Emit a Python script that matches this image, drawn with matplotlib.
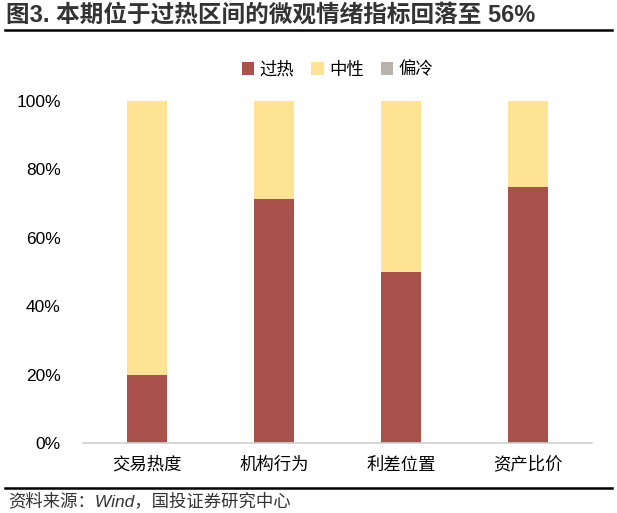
import matplotlib.pyplot as plt
from matplotlib.lines import Line2D
import numpy as np

plt.rcParams['font.family'] = ['Liberation Sans', 'Noto Sans CJK SC', 'DejaVu Sans']

# === Daten ===
categories = ["交易热度", "机构行为", "利差位置", "资产比价"]
hot = [20.0, 71.4, 50.0, 75.0]
neutral = [80.0, 28.6, 50.0, 25.0]
cold = [0.0, 0.0, 0.0, 0.0]

c_hot = "#A9514B"
c_neu = "#FFE394"
c_cold = "#B8B3AF"
cjk = ['Noto Sans CJK SC', 'DejaVu Sans']

fig = plt.figure(figsize=(6.17, 5.13), dpi=100)
ax = fig.add_axes([83 / 617, 1 - 443 / 513, 509 / 617, 342 / 513])

x = np.arange(len(categories))
w = 0.315
ax.bar(x, hot, w, color=c_hot, label="过热")
ax.bar(x, neutral, w, bottom=hot, color=c_neu, label="中性")
ax.bar(x, cold, w, bottom=np.add(hot, neutral), color=c_cold, label="偏冷")

ax.set_xlim(-0.5, len(categories) - 0.5)
ax.set_ylim(0, 100)
ax.set_yticks([0, 20, 40, 60, 80, 100])
ax.set_yticklabels([f"{v}%" for v in [0, 20, 40, 60, 80, 100]], fontsize=12.5)
ax.set_xticks(x)
ax.set_xticklabels(categories, fontsize=12.5, family=cjk)
ax.tick_params(axis='both', length=0)
ax.tick_params(axis='y', pad=16)
ax.tick_params(axis='x', pad=9)
for s in ['top', 'right', 'left']:
    ax.spines[s].set_visible(False)
ax.spines['bottom'].set_color("#D0D0D0")
ax.spines['bottom'].set_linewidth(1.2)

ax.legend(loc='lower center', bbox_to_anchor=(0.5, 1.02), ncol=3, frameon=False,
          prop={'family': cjk, 'size': 12.5}, handlelength=0.7, handleheight=0.7,
          handletextpad=0.3, columnspacing=1.0)

# === Titel & Quelle ===
fig.text(6 / 617, 1 - 15 / 513, "图3. 本期位于过热区间的微观情绪指标回落至 56%", fontsize=17,
         fontweight='bold', va='center', ha='left', color="#333333",
         family=['Liberation Sans', 'Noto Sans CJK SC'])
fig.add_artist(Line2D([5 / 617, 612 / 617], [1 - 30 / 513, 1 - 30 / 513], color='black', lw=1.8))
fig.add_artist(Line2D([5 / 617, 612 / 617], [1 - 488 / 513, 1 - 488 / 513], color='black', lw=1.8))
fig.text(8 / 617, 1 - 501 / 513, "资料来源：Wind，国投证券研究中心", fontsize=12.5, style='italic',
         va='center', ha='left', color="#333333", family=['Liberation Sans', 'Noto Sans CJK SC'])

plt.savefig("out.png", dpi=100)
plt.close()
